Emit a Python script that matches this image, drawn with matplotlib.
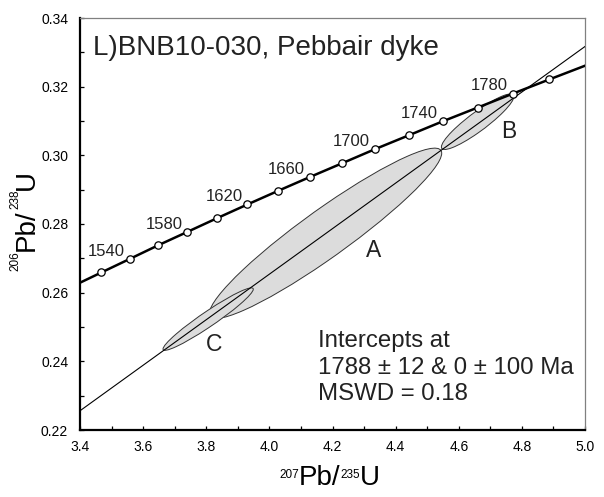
import numpy as np
import matplotlib
matplotlib.use('Agg')
import matplotlib.pyplot as plt
from matplotlib.patches import Ellipse
from matplotlib.ticker import MultipleLocator, FormatStrFormatter

plt.rcParams['font.family'] = ['Liberation Sans', 'DejaVu Sans']

# concordia markers (Ma) and their 207Pb/235U, 206Pb/238U ratios
conc_age = [1520, 1540, 1560, 1580, 1600, 1620, 1640, 1660, 1680, 1700, 1720, 1740, 1760, 1780, 1800]
conc_x = [3.4681, 3.5570, 3.6477, 3.7401, 3.8344, 3.9306, 4.0287, 4.1287, 4.2307, 4.3347,
          4.4409, 4.5491, 4.6595, 4.7721, 4.8868]
conc_y = [0.2659, 0.2698, 0.2738, 0.2777, 0.2817, 0.2857, 0.2897, 0.2937, 0.2977, 0.3018,
          0.3058, 0.3099, 0.3139, 0.3180, 0.3221]
# concordia where it leaves the plot
conc_end_x = [3.40, 5.00]
conc_end_y = [0.2629, 0.3261]
labelled_ages = [1540, 1580, 1620, 1660, 1700, 1740, 1780]

# discordia (upper intercept 1788 Ma, lower 0 Ma)
disc_x = [3.40, 5.00]
disc_y = [0.2256, 0.3317]

# analyses: x, x err, y, y err, rho
ell_names = ['A', 'B', 'C']
ell_x = [4.178, 4.660, 3.806]
ell_xerr = [0.368, 0.115, 0.143]
ell_y = [0.2773, 0.3098, 0.2523]
ell_yerr = [0.0248, 0.0081, 0.0091]
ell_rho = [0.940, 0.910, 0.958]
ell_label_x = [4.329, 4.757, 3.825]
ell_label_y = [0.2724, 0.3069, 0.2448]


def error_ellipse(x, ex, y, ey, rho):
    cov = np.array([[ex ** 2, rho * ex * ey], [rho * ex * ey, ey ** 2]])
    vals, vecs = np.linalg.eigh(cov)
    angle = np.degrees(np.arctan2(vecs[1, 1], vecs[0, 1]))
    return Ellipse((x, y), 2 * np.sqrt(vals[1]), 2 * np.sqrt(vals[0]), angle=angle,
                   facecolor='#dcdcdc', edgecolor='#333333', lw=0.7, zorder=2)


fig = plt.figure(figsize=(6.04, 4.97), dpi=100)
ax = fig.add_axes([80 / 604, 1 - 430 / 497, 505 / 604, 412 / 497])

for i in range(len(ell_names)):
    ax.add_patch(error_ellipse(ell_x[i], ell_xerr[i], ell_y[i], ell_yerr[i], ell_rho[i]))
    ax.text(ell_label_x[i], ell_label_y[i], ell_names[i], ha='center', va='center',
            fontsize=16.5, color='#222222', zorder=5)

ax.plot(disc_x, disc_y, color='black', lw=0.8, zorder=3)

curve_x = [conc_end_x[0]] + conc_x + [conc_end_x[1]]
curve_y = [conc_end_y[0]] + conc_y + [conc_end_y[1]]
ax.plot(curve_x, curve_y, color='black', lw=1.8, zorder=4)
ax.plot(conc_x, conc_y, 'o', ms=5.3, mfc='white', mec='black', mew=0.9, zorder=5)

for age in labelled_ages:
    i = conc_age.index(age)
    ax.annotate(str(age), (conc_x[i], conc_y[i]), xytext=(-3.6, 2.4),
                textcoords='offset points', ha='right', va='baseline',
                fontsize=12, color='#222222', zorder=6)

ax.set_xlim(3.4, 5.0)
ax.set_ylim(0.22, 0.34)
ax.xaxis.set_major_locator(MultipleLocator(0.2))
ax.xaxis.set_minor_locator(MultipleLocator(0.1))
ax.yaxis.set_major_locator(MultipleLocator(0.02))
ax.yaxis.set_minor_locator(MultipleLocator(0.01))
ax.xaxis.set_major_formatter(FormatStrFormatter('%.1f'))
ax.yaxis.set_major_formatter(FormatStrFormatter('%.2f'))
ax.tick_params(which='both', direction='in', length=3, width=0.9, top=False, right=False)
ax.tick_params(axis='x', which='major', labelsize=10, pad=7)
ax.tick_params(axis='y', which='major', labelsize=10, pad=8.5)

for side in ['left', 'bottom']:
    ax.spines[side].set_linewidth(1.6)
    ax.spines[side].set_color('black')
for side in ['top', 'right']:
    ax.spines[side].set_linewidth(0.9)
    ax.spines[side].set_color('#808080')

ax.text(0.026, 0.910, 'L)BNB10-030, Pebbair dyke', transform=ax.transAxes,
        fontsize=20, va='baseline', color='#222222')

ax.text(0.471, 0.202, 'Intercepts at', transform=ax.transAxes, fontsize=17.3,
        va='baseline', color='#222222')
ax.text(0.471, 0.136, '1788 \u00b1 12 & 0 \u00b1 100 Ma', transform=ax.transAxes,
        fontsize=17.3, va='baseline', color='#222222')
ax.text(0.471, 0.073, 'MSWD = 0.18', transform=ax.transAxes, fontsize=17.3,
        va='baseline', color='#222222')

# x axis label: 207Pb/235U with small superscripts
big, small = 20, 8.5
pb = fig.text(299 / 604, (497 - 485) / 497, 'Pb/', fontsize=big, ha='left', va='baseline')
fig.canvas.draw()
ax.annotate('207', xy=(0, 1), xycoords=pb, xytext=(0, -3), textcoords='offset points',
            ha='right', va='top', fontsize=small, annotation_clip=False)
s235 = ax.annotate('235', xy=(1, 1), xycoords=pb, xytext=(0, -3), textcoords='offset points',
                   ha='left', va='top', fontsize=small, annotation_clip=False)
ax.annotate('U', xy=(1, 0), xycoords=(s235, pb), xytext=(0, 0), textcoords='offset points',
            ha='left', va='bottom', fontsize=big, annotation_clip=False)

# y axis label: 206Pb/238U, rotated
pby = fig.text(40 / 604, (497 - 251) / 497, 'Pb/', fontsize=big, rotation=90,
               ha='right', va='bottom')
ax.annotate('206', xy=(0, 0), xycoords=pby, xytext=(-3, 0), textcoords='offset points',
            ha='left', va='top', rotation=90, fontsize=small, annotation_clip=False)
s238 = ax.annotate('238', xy=(0, 1), xycoords=pby, xytext=(-3, 0), textcoords='offset points',
                   ha='left', va='bottom', rotation=90, fontsize=small, annotation_clip=False)
ax.annotate('U', xy=(0, 1), xycoords=(pby, s238), xytext=(0, 0), textcoords='offset points',
            ha='left', va='bottom', rotation=90, fontsize=big, annotation_clip=False)

fig.savefig('out.png', dpi=100)
